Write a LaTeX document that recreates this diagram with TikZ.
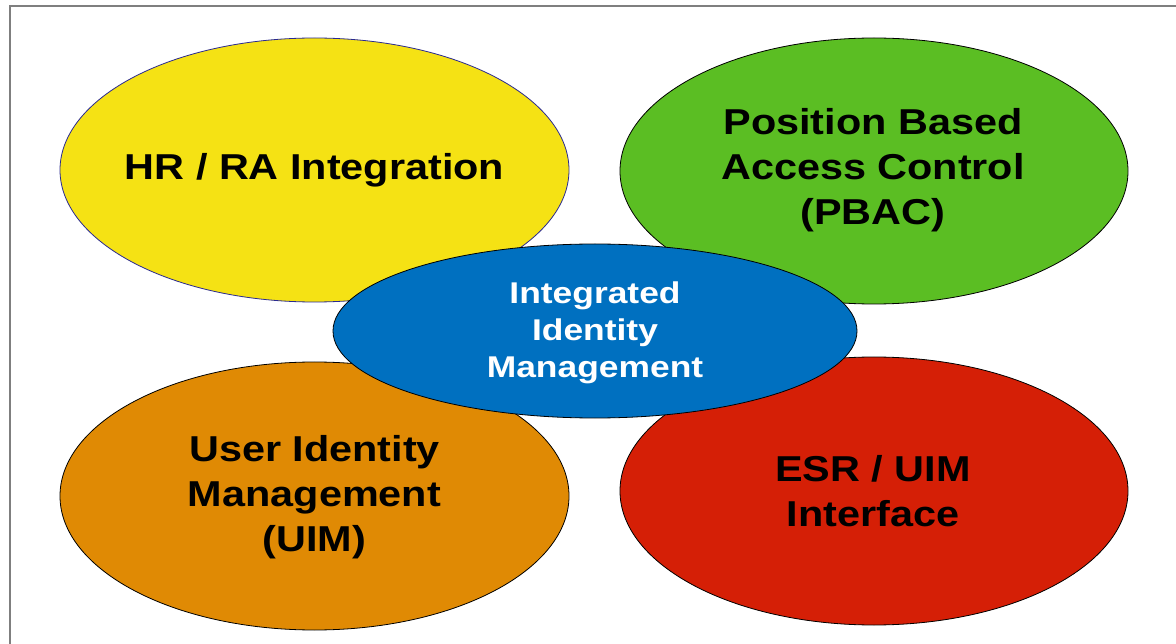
\documentclass[tikz,border=0pt]{standalone}
\usepackage{fontspec}
\setmainfont{Liberation Sans}
\usetikzlibrary{shapes.geometric}

\definecolor{ovyellow}{HTML}{F5E214}
\definecolor{ovgreen}{HTML}{5BBE23}
\definecolor{ovorange}{HTML}{E08A04}
\definecolor{ovred}{HTML}{D51F06}
\definecolor{ovblue}{HTML}{0070C0}
\definecolor{navyline}{HTML}{2A2A90}
\definecolor{framegray}{HTML}{7F7F7F}

\tikzset{
  petal/.style={ellipse, draw=black, line width=0.8pt, inner sep=0pt},
  petaltext/.style={inner sep=0pt, align=center, text=black,
    font=\addfontfeature{FakeStretch=1.15}\fontsize{36}{45}\selectfont\bfseries},
  hub/.style={ellipse, draw=black, line width=0.8pt, inner sep=0pt, fill=ovblue},
  hubtext/.style={inner sep=0pt, align=center, text=white,
    font=\addfontfeature{FakeStretch=1.18}\fontsize{30}{37}\selectfont\bfseries},
}

\begin{document}
\begin{tikzpicture}[x=1pt, y=-1pt]
  \useasboundingbox (0,0) rectangle (1176,644);
  \clip (0,0) rectangle (1176,644);
  \fill[white] (0,0) rectangle (1176,644);

  % outer frame, open towards the right and bottom
  \draw[framegray, line width=2pt] (10,700) -- (10,6) -- (1200,6);

  % four surrounding topics
  \node[petal, fill=ovyellow, draw=navyline, minimum width=509pt, minimum height=264pt]
    (hr) at (314.5,170) {};
  \node[petaltext] (hrtext) at (hr.center) {HR / RA Integration};

  \node[petal, fill=ovgreen, minimum width=508pt, minimum height=266pt]
    (pbac) at (874,171) {};
  \node[petaltext] (pbactext) at (873,170) {Position Based\\Access Control\\(PBAC)};

  \node[petal, fill=ovorange, minimum width=509pt, minimum height=268pt]
    (uim) at (314.5,496) {};
  \node[petaltext] (uimtext) at (314.5,497.5) {User Identity\\Management\\(UIM)};

  \node[petal, fill=ovred, minimum width=508pt, minimum height=268pt]
    (esr) at (874,491) {};
  \node[petaltext] (esrtext) at (873,491) {ESR / UIM\\Interface};

  % central topic on top
  \node[hub, minimum width=524pt, minimum height=174pt]
    (iim) at (595,331) {};
  \node[hubtext] (iimtext) at (595,332.5) {Integrated\\Identity\\Management};
\end{tikzpicture}
\end{document}
